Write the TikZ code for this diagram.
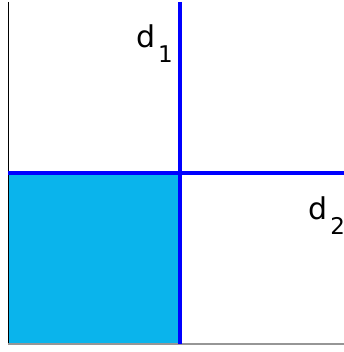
\documentclass[tikz,border=0pt]{standalone}
\usepackage{fontspec}
\setmainfont{DejaVu Sans}
\definecolor{fillcyan}{RGB}{10,180,236}
\definecolor{axisgray}{RGB}{150,150,150}
\begin{document}
\begin{tikzpicture}[x=1pt,y=-1pt,
  blueline/.style={draw=blue,line width=4pt},
  lbl/.style={inner sep=0pt,anchor=base west}]
\useasboundingbox (0,0) rectangle (344,352);
\coordinate (tl) at (8,2);
\coordinate (bl) at (8,344);
\coordinate (br) at (344,344);
\coordinate (vt) at (180,2);
\coordinate (vb) at (180,344);
\coordinate (hl) at (8,173);
\coordinate (hr) at (344,173);
\fill[fillcyan] (8,173) rectangle (180,344);
\draw[black,line width=0.8pt] (tl) -- (bl);
\draw[axisgray,line width=1.5pt] (bl) -- (br);
\draw[blueline] (vt) -- (vb);
\draw[blueline] (hl) -- (hr);
\node[lbl] (d1) at (136,48) {\fontsize{30}{36}\selectfont d\kern3pt\raisebox{-15pt}{\fontsize{23}{28}\selectfont 1}};
\node[lbl] (d2) at (308,219) {\fontsize{30}{36}\selectfont d\kern3pt\raisebox{-15pt}{\fontsize{23}{28}\selectfont 2}};
\end{tikzpicture}
\end{document}
